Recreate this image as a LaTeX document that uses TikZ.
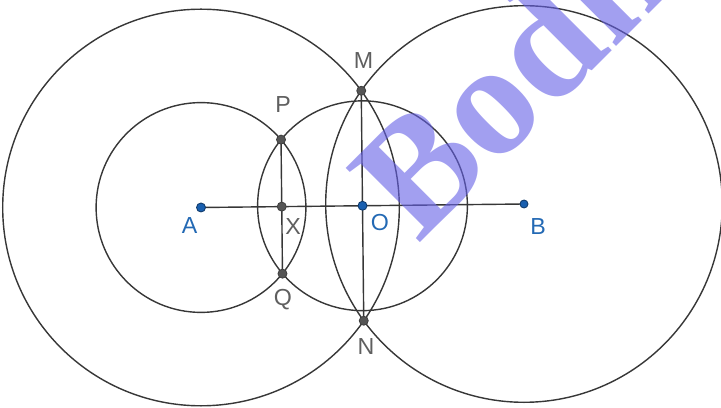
\documentclass[tikz,border=0pt]{standalone}
\usepackage{fontspec}
\setmainfont{Liberation Sans}
\newfontfamily\markfont{Liberation Serif}
\usetikzlibrary{calc}
\definecolor{linegray}{RGB}{55,55,55}
\definecolor{ptgray}{RGB}{85,85,85}
\definecolor{ptblue}{RGB}{25,95,175}
\definecolor{lblblue}{RGB}{35,105,180}
\definecolor{lblgray}{RGB}{95,95,95}
\definecolor{wmark}{RGB}{100,95,230}
\tikzset{
  circ/.style={draw=linegray, line width=1pt},
  bluept/.style={fill=ptblue, draw=ptblue!60!black, line width=0.6pt},
  graypt/.style={fill=ptgray, draw=black!75, line width=0.6pt},
  bluelbl/.style={text=lblblue, inner sep=0pt, font=\fontsize{16.5}{16.5}\selectfont},
  graylbl/.style={text=lblgray, inner sep=0pt, font=\fontsize{16.5}{16.5}\selectfont},
}
\begin{document}
\begin{tikzpicture}[x=0.025cm,y=0.025cm]
\useasboundingbox (0,0) rectangle (721,407);
\clip (0,0) rectangle (721,407);
\coordinate (A) at (201,199.5);
\coordinate (B) at (524,203);
\coordinate (O) at ($(A)!0.5!(B)$);
\coordinate (X) at ($(A)!0.5!(O)$);
\coordinate (M) at ($(O)!0.712!90:(B)$);
\coordinate (N) at ($(O)!0.712!-90:(B)$);
\coordinate (P) at ($(X)!0.83!90:(O)$);
\coordinate (Q) at ($(X)!0.83!-90:(O)$);
% big circles, meet in M and N
\draw[circ] (A) circle (198.3);
\draw[circ] (B) circle (198.3);
% small circles, meet in P and Q
\draw[circ] (A) circle (104.9);
\draw[circ] (O) circle (104.9);
\draw[circ] (A) -- (B);
\draw[circ] (M) -- (N);
\draw[circ] (P) -- (Q);
\filldraw[bluept] (A) circle (4.5);
\filldraw[bluept] (O) circle (4.5);
\filldraw[bluept] (B) circle (4);
\filldraw[graypt] (X) circle (4.5);
\filldraw[graypt] (P) circle (4.5);
\filldraw[graypt] (Q) circle (4.5);
\filldraw[graypt] (M) circle (4.5);
\filldraw[graypt] (N) circle (4.5);
\node[bluelbl] (lA) at (189.5,181) {A};
\node[graylbl] (lX) at (293,180) {X};
\node[bluelbl] (lO) at (380,184) {O};
\node[bluelbl] (lB) at (538,180) {B};
\node[graylbl] (lM) at (363.5,346) {M};
\node[graylbl] (lP) at (283,302) {P};
\node[graylbl] (lQ) at (283,107) {Q};
\node[graylbl] (lN) at (366,60) {N};
% watermark
\node[text=wmark, text opacity=0.6, rotate=45, anchor=base west, inner sep=0pt,
      font=\markfont\bfseries\fontsize{114}{114}\selectfont] (wm) at (418,162) {Bodh};
\end{tikzpicture}
\end{document}
